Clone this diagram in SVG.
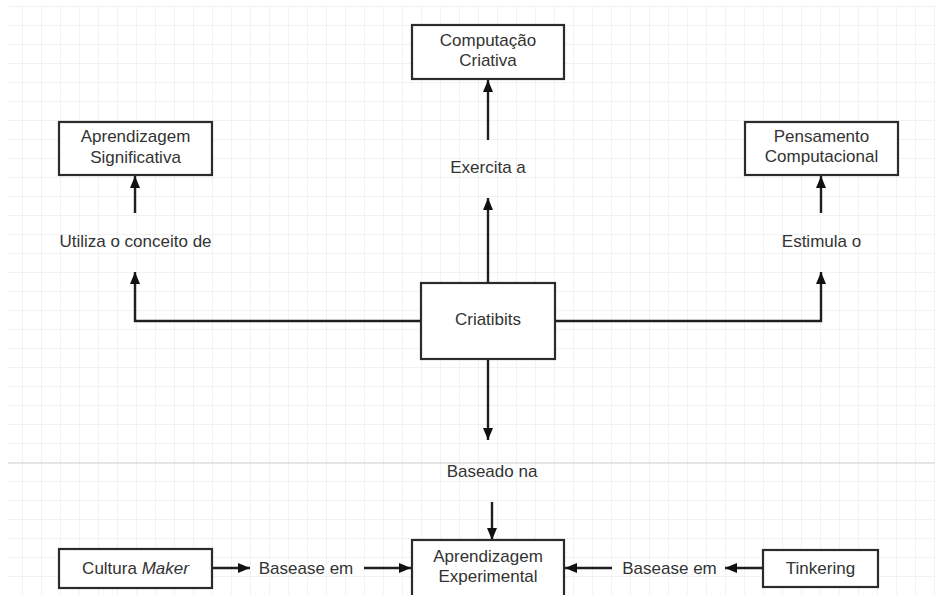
<svg xmlns="http://www.w3.org/2000/svg" width="935" height="595" viewBox="0 0 935 595">
<style>
.box{fill:#fff;stroke:#2b2b2b;stroke-width:2.2}
.lbl{font-family:"Liberation Sans",Arial,sans-serif;font-size:17px;fill:#333;text-anchor:middle}
.edge{fill:none;stroke:#1f1f1f;stroke-width:2.4}
</style>
<defs>
<pattern id="grid" patternUnits="userSpaceOnUse" x="3" y="6" width="19" height="19">
<path d="M0,0 H19 M0,0 V19" fill="none" stroke="#e6e6e6" stroke-width="1"/>
</pattern>
<marker id="ah" markerUnits="userSpaceOnUse" markerWidth="13" markerHeight="11" refX="12" refY="5" orient="auto">
<path d="M0,0 L12,5 L0,10 z" fill="#111"/>
</marker>
</defs>
<rect width="935" height="595" fill="#fff"/>
<rect x="8" y="6" width="927" height="589" fill="url(#grid)"/>
<line x1="8" y1="463" x2="935" y2="463" stroke="#d2d2d2" stroke-width="1"/>
<g id="connectors">
<path class="edge" d="M488,283 V198" marker-end="url(#ah)"/>
<path class="edge" d="M488,140 V80" marker-end="url(#ah)"/>
<path class="edge" d="M421,321 H135 V272" marker-end="url(#ah)"/>
<path class="edge" d="M135,213 V176" marker-end="url(#ah)"/>
<path class="edge" d="M555,321 H821 V272" marker-end="url(#ah)"/>
<path class="edge" d="M821,213 V176" marker-end="url(#ah)"/>
<path class="edge" d="M488,359 V440" marker-end="url(#ah)"/>
<path class="edge" d="M492,502 V540" marker-end="url(#ah)"/>
<path class="edge" d="M212,568 H250" marker-end="url(#ah)"/>
<path class="edge" d="M364,568 H411" marker-end="url(#ah)"/>
<path class="edge" d="M763,568 H725" marker-end="url(#ah)"/>
<path class="edge" d="M612,568 H565" marker-end="url(#ah)"/>
<text class="lbl" x="488" y="173">Exercita a</text>
<text class="lbl" x="135.5" y="247">Utiliza o conceito de</text>
<text class="lbl" x="821.5" y="247">Estimula o</text>
<text class="lbl" x="492" y="477">Baseado na</text>
<text class="lbl" x="306" y="574">Basease em</text>
<text class="lbl" x="669.5" y="574">Basease em</text>
</g>
<g id="computacao-criativa">
<rect class="box" x="412" y="25" width="152" height="54"/>
<text class="lbl" x="488" y="46">Computação</text>
<text class="lbl" x="488" y="66">Criativa</text>
</g>
<g id="aprendizagem-significativa">
<rect class="box" x="59" y="122" width="153" height="53"/>
<text class="lbl" x="135.5" y="142">Aprendizagem</text>
<text class="lbl" x="135.5" y="163">Significativa</text>
</g>
<g id="pensamento-computacional">
<rect class="box" x="745" y="122" width="153" height="53"/>
<text class="lbl" x="821.5" y="142">Pensamento</text>
<text class="lbl" x="821.5" y="162">Computacional</text>
</g>
<g id="criatibits">
<rect class="box" x="421" y="283" width="134" height="76"/>
<text class="lbl" x="488" y="325">Criatibits</text>
</g>
<g id="cultura-maker">
<rect class="box" x="59" y="549" width="153" height="39"/>
<text class="lbl" x="135.5" y="574">Cultura <tspan font-style="italic">Maker</tspan></text>
</g>
<g id="aprendizagem-experimental">
<rect class="box" x="412" y="540" width="152" height="60"/>
<text class="lbl" x="488" y="562">Aprendizagem</text>
<text class="lbl" x="488" y="582">Experimental</text>
</g>
<g id="tinkering">
<rect class="box" x="763" y="550" width="115" height="37"/>
<text class="lbl" x="820.5" y="574">Tinkering</text>
</g>
</svg>
